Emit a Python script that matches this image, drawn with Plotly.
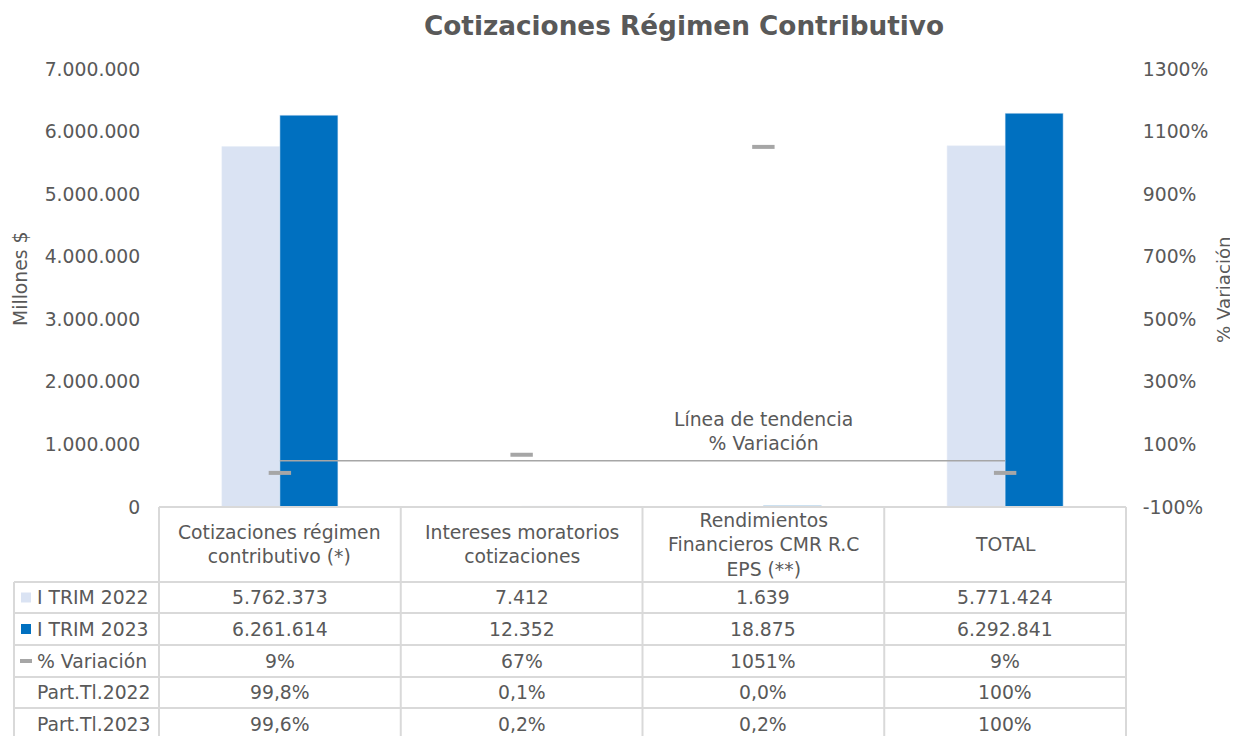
import plotly.graph_objects as go

# ---------------- data ----------------
categories = [
    "Cotizaciones régimen<br>contributivo (*)",
    "Intereses moratorios<br>cotizaciones",
    "Rendimientos<br>Financieros CMR R.C<br>EPS (**)",
    "TOTAL",
]
trim_2022 = [5762373, 7412, 1639, 5771424]
trim_2023 = [6261614, 12352, 18875, 6292841]
variacion = [9, 67, 1051, 9]
part_2022 = ["99,8%", "0,1%", "0,0%", "100%"]
part_2023 = ["99,6%", "0,2%", "0,2%", "100%"]
trend_value = 48  # % level of the drawn trend line
row_labels = ["I TRIM 2022", "I TRIM 2023", "% Variación", "Part.Tl.2022", "Part.Tl.2023"]
y_ticks = [0, 1000000, 2000000, 3000000, 4000000, 5000000, 6000000, 7000000]
y2_ticks = [-100, 100, 300, 500, 700, 900, 1100, 1300]

# ---------------- style ----------------
OFF = 8  # page body margin
W, H = 1238 - OFF, 736 - OFF
FONT = "DejaVu Sans"
TXT = "#595959"
LIGHT = "#dae3f3"
DARK = "#0070c0"
GREY = "#a6a6a6"
GRID = "#d9d9d9"
FS = 18.8

def fmt_num(v):
    return f"{v:,}".replace(",", ".")

def py(p):  # screen pixel y -> paper
    return 1 - (p - OFF) / H

def px(p):  # screen pixel x -> paper
    return (p - OFF) / W

x_dom = [px(159), px(1126)]
y_dom = [py(507), py(69)]
xs = list(range(len(categories)))

def xcol(v):  # data x -> paper
    return x_dom[0] + (v + 0.5) / len(categories) * (x_dom[1] - x_dom[0])

fig = go.Figure()
fig.add_trace(go.Bar(x=xs, y=trim_2022, marker_color=LIGHT, name="I TRIM 2022"))
fig.add_trace(go.Bar(x=xs, y=trim_2023, marker_color=DARK, name="I TRIM 2023"))
fig.add_trace(go.Scatter(x=[xs[0], xs[-1]], y=[trend_value, trend_value], yaxis="y2",
                         mode="lines", line=dict(color=GREY, width=1.5), name="tend"))
fig.add_trace(go.Scatter(x=xs, y=variacion, yaxis="y2", mode="markers",
                         marker=dict(symbol="line-ew", size=16,
                                     line=dict(color=GREY, width=4)),
                         name="% Variación"))

shapes = []
annotations = []

# table geometry (screen pixels)
header_top = 507
row_lines = [582, 613, 645, 677, 708, 745]
left_x = 14

shapes.append(dict(type="line", xref="paper", yref="paper", x0=xcol(-0.5), x1=xcol(len(xs) - 0.5),
                   y0=py(header_top), y1=py(header_top), line=dict(color=GRID, width=2)))
for r in row_lines[:-1]:
    shapes.append(dict(type="line", xref="paper", yref="paper", x0=px(left_x), x1=xcol(len(xs) - 0.5),
                       y0=py(r), y1=py(r), line=dict(color=GRID, width=2)))
shapes.append(dict(type="line", xref="paper", yref="paper", x0=px(left_x), x1=px(left_x),
                   y0=py(row_lines[0]), y1=0, line=dict(color=GRID, width=2)))
for k in range(len(xs) + 1):
    xv = xcol(k - 0.5)
    shapes.append(dict(type="line", xref="paper", yref="paper", x0=xv, x1=xv,
                       y0=py(header_top), y1=0, line=dict(color=GRID, width=2)))

# header text
for i, c in enumerate(categories):
    annotations.append(dict(x=i, xref="x", y=py((header_top + row_lines[0]) / 2), yref="paper",
                            text=c, showarrow=False, font=dict(family=FONT, size=FS, color=TXT),
                            align="center", yanchor="middle", xanchor="center"))

rows = [
    [fmt_num(v) for v in trim_2022],
    [fmt_num(v) for v in trim_2023],
    [f"{v}%" for v in variacion],
    part_2022,
    part_2023,
]
row_centers = [597.5, 629, 661, 692.5, 724]
for ri, vals in enumerate(rows):
    yc = row_centers[ri]
    for i, t in enumerate(vals):
        annotations.append(dict(x=i, xref="x", y=py(yc), yref="paper", text=t, showarrow=False,
                                font=dict(family=FONT, size=FS, color=TXT),
                                xanchor="center", yanchor="middle"))
    annotations.append(dict(x=px(35), xref="paper", y=py(yc), yref="paper", text=row_labels[ri],
                            showarrow=False, font=dict(family=FONT, size=FS, color=TXT),
                            xanchor="left", yanchor="middle"))

# legend keys in table
for ri, col in enumerate([LIGHT, DARK]):
    yc = row_centers[ri]
    shapes.append(dict(type="rect", xref="paper", yref="paper", x0=px(21), x1=px(31),
                       y0=py(yc + 5), y1=py(yc - 5), fillcolor=col, line=dict(width=0)))
yc = row_centers[2]
shapes.append(dict(type="rect", xref="paper", yref="paper", x0=px(20), x1=px(32),
                   y0=py(yc + 2), y1=py(yc - 2), fillcolor=GREY, line=dict(width=0)))

# trend label
annotations.append(dict(x=2, xref="x", y=py(431), yref="paper",
                        text="Línea de tendencia<br>% Variación", showarrow=False,
                        font=dict(family=FONT, size=FS, color=TXT), align="center",
                        xanchor="center", yanchor="middle"))

# axis titles
annotations.append(dict(x=px(20), xref="paper", y=py(279), yref="paper", text="Millones $",
                        textangle=-90, showarrow=False, font=dict(family=FONT, size=FS, color=TXT),
                        xanchor="center", yanchor="middle"))
annotations.append(dict(x=px(1224), xref="paper", y=py(290), yref="paper", text="% Variación",
                        textangle=-90, showarrow=False, font=dict(family=FONT, size=18.2, color=TXT),
                        xanchor="center", yanchor="middle"))

fig.update_layout(
    width=W, height=H,
    margin=dict(l=0, r=0, t=0, b=0, autoexpand=False),
    paper_bgcolor="white", plot_bgcolor="white",
    showlegend=False,
    barmode="group", bargap=0.52, bargroupgap=0,
    title=dict(text="<b>Cotizaciones Régimen Contributivo</b>", x=px(684), xanchor="center",
               y=py(26), yanchor="middle", automargin=False,
               font=dict(family=FONT, size=26.3, color=TXT)),
    xaxis=dict(domain=x_dom, range=[-0.5, len(xs) - 0.5], visible=False, fixedrange=True,
               automargin=False),
    yaxis=dict(domain=y_dom, range=[0, 7000000], tickvals=y_ticks, automargin=False,
               ticktext=[fmt_num(v) for v in y_ticks], showgrid=False, zeroline=False,
               showline=False, ticks="outside", ticklen=14, tickcolor="rgba(0,0,0,0)",
               tickfont=dict(family=FONT, size=FS, color=TXT)),
    yaxis2=dict(overlaying="y", side="right", range=[-100, 1300], tickvals=y2_ticks,
                automargin=False,
                ticktext=[f"{v}%" for v in y2_ticks], showgrid=False, zeroline=False,
                showline=False, ticks="outside", ticklen=12, tickcolor="rgba(0,0,0,0)",
                tickfont=dict(family=FONT, size=FS, color=TXT)),
    shapes=shapes,
    annotations=annotations,
)

fig.write_html("out.html")
